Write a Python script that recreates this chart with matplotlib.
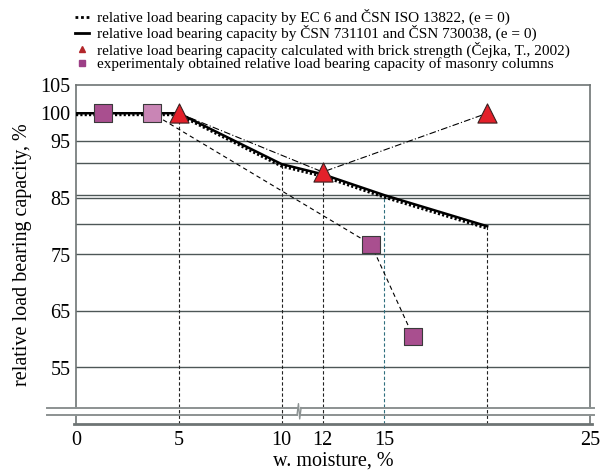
import numpy as np
import matplotlib
matplotlib.use("Agg")
import matplotlib.pyplot as plt
from matplotlib.lines import Line2D

plt.rcParams['font.family'] = ['Liberation Serif', 'DejaVu Serif']

# moisture content, % and relative load bearing capacity, %
csn_moisture = [0, 5, 10, 12, 15, 20]
csn_capacity = [100, 100, 91.0, 89.2, 85.5, 80.0]
ec6_moisture = [0, 5, 10, 12, 15, 20]
ec6_capacity = [99.8, 99.8, 90.7, 88.9, 85.2, 79.7]
brick_moisture = [5, 12, 20]
brick_capacity = [100, 89.6, 100]
column_moisture = [1.3, 3.7, 14.35, 16.4]
column_capacity = [100, 100, 76.8, 60.5]
column_colors = ['#a94f8f', '#c985b5', '#a94f8f', '#a94f8f']

ref_moisture = [5, 10, 12, 15, 20]
grid_levels = [95, 91.2, 85.6, 85, 80.4, 75, 65, 55]
xticks = [0, 5, 10, 12, 15, 25]
yticks = [55, 65, 75, 85, 95, 100, 105]

labels = [
    'relative load bearing capacity by EC 6 and ČSN ISO 13822, (e = 0)',
    'relative load bearing capacity by ČSN 731101 and ČSN 730038, (e = 0)',
    'relative load bearing capacity calculated with brick strength (Čejka, T., 2002)',
    'experimentaly obtained relative load bearing capacity of masonry columns',
]

fig = plt.figure(figsize=(6.01, 4.73), dpi=100)
ax = fig.add_axes([76 / 601, 1 - 424 / 473, 514 / 601, 339 / 473])
ax.set_xlim(0, 25)
ax.set_ylim(45, 105)
for s in ax.spines.values():
    s.set_visible(False)

grid_c = '#4d5757'
for g in grid_levels:
    ax.plot([0, 25], [g, g], color=grid_c, lw=1.0, zorder=1)

# vertical guides from the axis up to the design curve
for xm in ref_moisture:
    top = np.interp(xm, csn_moisture, csn_capacity)
    col = '#2f6f7f' if xm == 15 else '#222222'
    ax.plot([xm, xm], [45, top], color=col, lw=0.8, ls=(0, (3, 2)), zorder=2)

# frame with broken value axis
frame_c = '#6e7474'
y_up, y_lo = 47.9, 46.6
ax.plot([0, 25], [105, 105], color=frame_c, lw=1.2, clip_on=False, zorder=3)
ax.plot([0, 0], [y_up, 105], color=frame_c, lw=1.2, clip_on=False, zorder=3)
ax.plot([25, 25], [y_up, 105], color=frame_c, lw=1.2, clip_on=False, zorder=3)
ax.plot([0, 0], [45, y_lo], color=frame_c, lw=1.2, clip_on=False, zorder=3)
ax.plot([25, 25], [45, y_lo], color=frame_c, lw=1.2, clip_on=False, zorder=3)
ax.plot([-0.1, 25.1], [45, 45], color=frame_c, lw=2.0, clip_on=False, zorder=3)
brk_c = '#8c9292'
ax.plot([-1.42, 10.75], [y_up, y_up], color=brk_c, lw=1.4, clip_on=False, zorder=3)
ax.plot([-1.42, 10.75], [y_lo, y_lo], color=brk_c, lw=1.4, clip_on=False, zorder=3)
ax.plot([10.95, 25.2], [y_up, y_up], color=brk_c, lw=1.4, clip_on=False, zorder=3)
ax.plot([10.95, 25.2], [y_lo, y_lo], color=brk_c, lw=1.4, clip_on=False, zorder=3)
ax.plot([10.75, 10.82, 10.88, 10.95], [y_lo, 48.6, 45.9, y_up],
        color=brk_c, lw=1.0, clip_on=False, zorder=3)

# data series
ax.plot(ec6_moisture, ec6_capacity, color='black', lw=2.6, ls=(0, (0.6, 0.6)), zorder=4)
ax.plot(csn_moisture, csn_capacity, color='black', lw=1.8, zorder=5)
ax.plot(brick_moisture, brick_capacity, color='black', lw=0.8, ls=(0, (6, 2, 1, 2)), zorder=4)
ax.plot(column_moisture, column_capacity, color='black', lw=0.8, ls=(0, (4, 3)), zorder=4)
ax.scatter(brick_moisture, brick_capacity, marker='^', s=190, color='#e3202a',
           edgecolor='#3a2020', linewidth=0.8, zorder=6)
ax.scatter(column_moisture, column_capacity, marker='s', s=160, c=column_colors,
           edgecolor='#3a3a3a', linewidth=0.8, zorder=6)

ax.set_xticks(xticks)
ax.set_xticklabels([str(t) for t in xticks])
ax.set_yticks(yticks)
ax.set_yticklabels([str(t) for t in yticks])
ax.tick_params(length=0, labelsize=14.5, pad=4)
ax.tick_params(axis='x', pad=5)
ax.set_xlabel('w. moisture, %', fontsize=14.5, labelpad=1)
ax.set_ylabel('relative load bearing capacity, %', fontsize=14.5, labelpad=6)

handles = [
    Line2D([], [], color='black', lw=2.0, ls=(0, (1, 1))),
    Line2D([], [], color='black', lw=2.0),
    Line2D([], [], color='#b3262a', marker='^', ls='none', markersize=5),
    Line2D([], [], color='#9c3f86', marker='s', ls='none', markersize=5),
]
fig.legend(handles, labels, loc='upper left', bbox_to_anchor=(75 / 601, 1 - 9 / 473),
           frameon=False, fontsize=11, handlelength=0.9, handletextpad=0.55,
           labelspacing=0.0, borderpad=0, borderaxespad=0)

fig.savefig('out.png', dpi=100)
